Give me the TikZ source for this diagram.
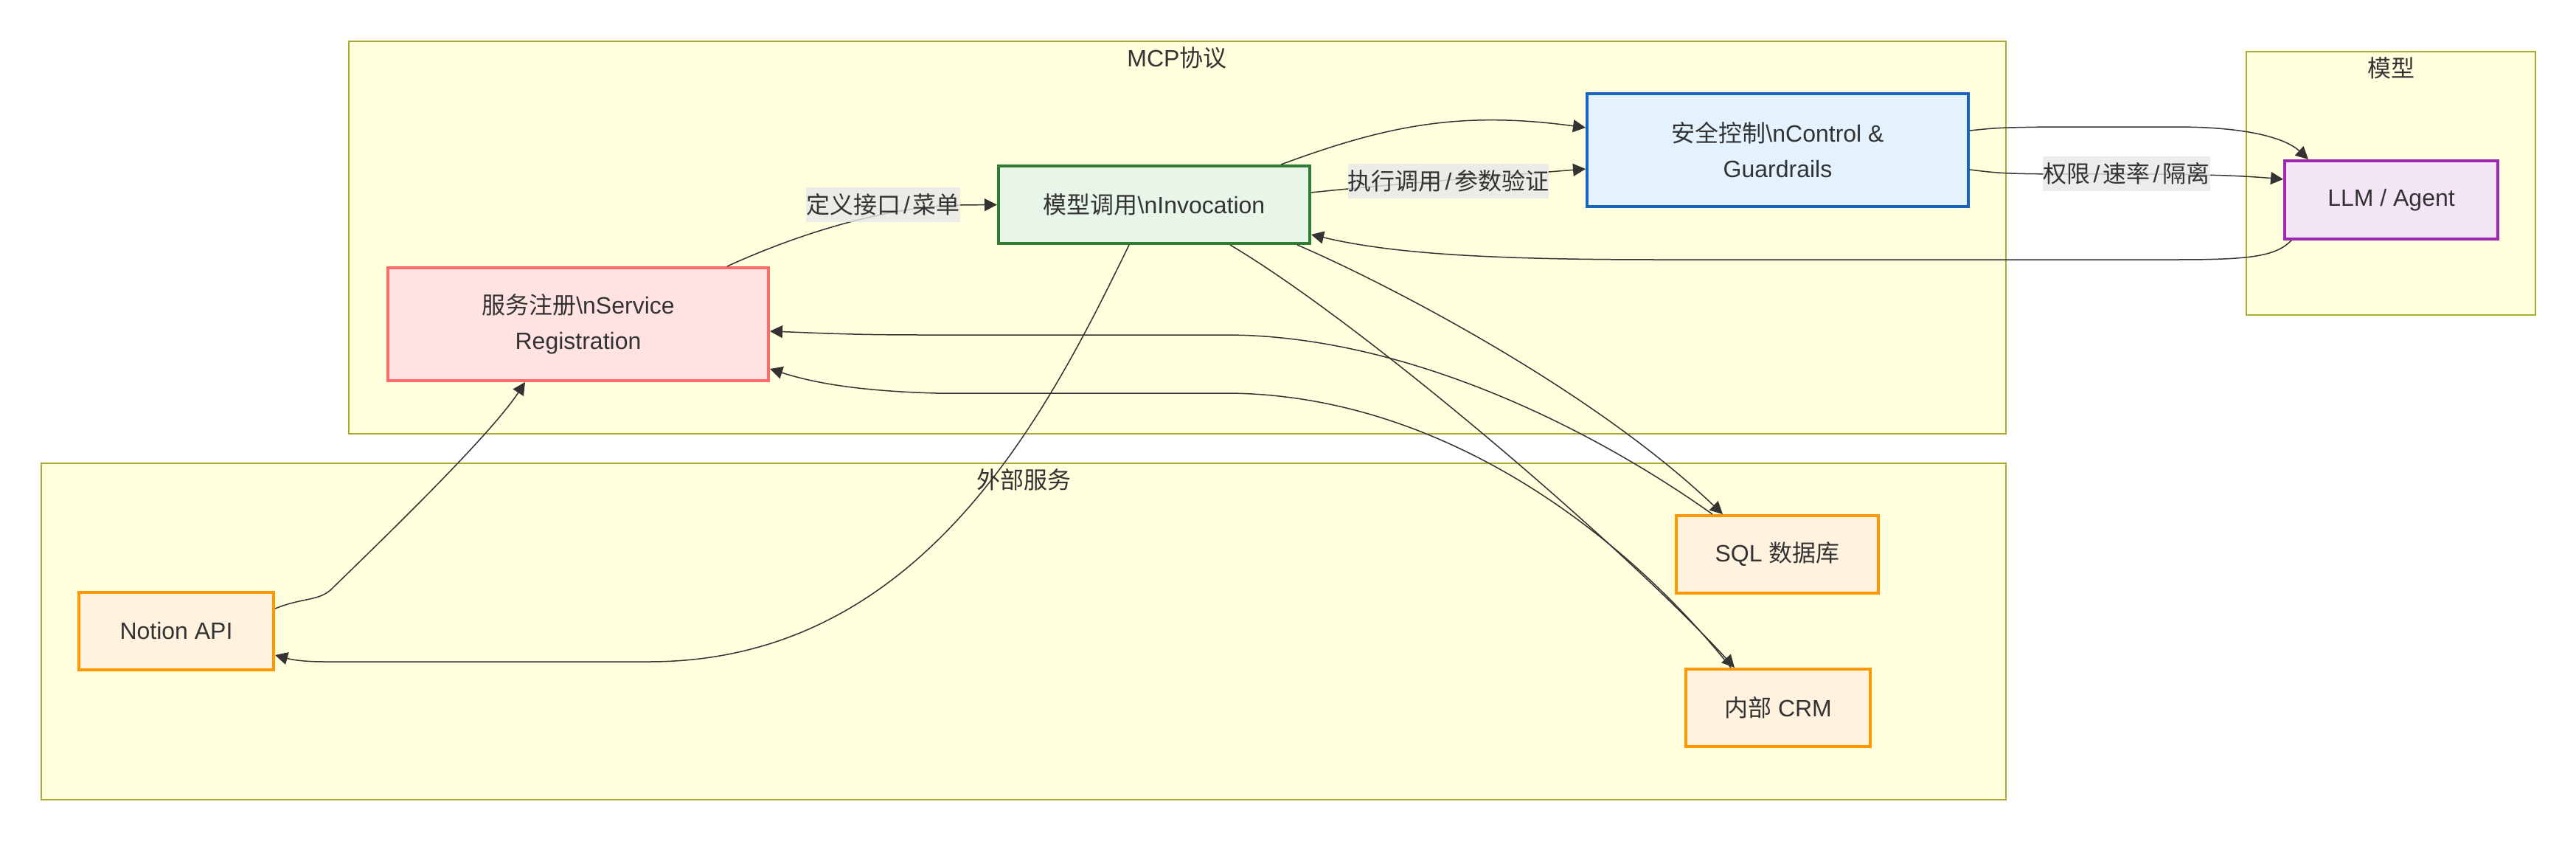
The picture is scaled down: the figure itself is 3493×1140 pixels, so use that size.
\documentclass[tikz,border=0pt]{standalone}
\usepackage{fontspec}
\setmainfont{Liberation Sans}
\newfontfamily\cjkfont{Noto Sans CJK SC}
\usetikzlibrary{arrows.meta}
\newcommand\zh[1]{{\cjkfont #1}}
\definecolor{clfill}{HTML}{FFFFDE}
\definecolor{cldraw}{HTML}{AAAA33}
\definecolor{txt}{HTML}{333333}
\definecolor{edgec}{HTML}{333333}
\definecolor{lblbg}{HTML}{E8E8E8}
\definecolor{rfill}{HTML}{FFE2E2}
\definecolor{rdraw}{HTML}{FF6B6B}
\definecolor{ifill}{HTML}{E8F5E9}
\definecolor{idraw}{HTML}{2E7D32}
\definecolor{sfill}{HTML}{E3F2FD}
\definecolor{sdraw}{HTML}{1565C0}
\definecolor{lfill}{HTML}{F3E5F5}
\definecolor{ldraw}{HTML}{9C27B0}
\definecolor{efill}{HTML}{FFF3E0}
\definecolor{edraw}{HTML}{FF9800}
\begin{document}
\begin{tikzpicture}[x=0.5pt,y=-0.5pt,
  cluster/.style={fill=clfill,draw=cldraw,line width=1pt},
  cltitle/.style={text=txt,font=\fontsize{16}{20}\selectfont,inner sep=0pt},
  box/.style={draw,line width=2pt,inner sep=0pt,text=txt,align=center,
    font=\fontsize{16}{24}\selectfont},
  regbox/.style={box,fill=rfill,draw=rdraw},
  invbox/.style={box,fill=ifill,draw=idraw},
  secbox/.style={box,fill=sfill,draw=sdraw},
  llmbox/.style={box,fill=lfill,draw=ldraw},
  extbox/.style={box,fill=efill,draw=edraw},
  edge/.style={draw=edgec,line width=0.75pt,-{Triangle[length=8.5pt,width=8.5pt]}},
  elabel/.style={fill=lblbg,fill opacity=0.8,text opacity=1,text=txt,inner sep=0pt,
    minimum height=23.5pt,font=\fontsize{16}{20}\selectfont}
]
\fill[white] (0,0) rectangle (3493,1140);
\useasboundingbox (0,0) rectangle (3493,1140);

% clusters
\draw[cluster] (473,56) rectangle (2720,588);
\draw[cluster] (3046,70) rectangle (3438,427);
\draw[cluster] (56,628) rectangle (2720,1084);
\node[cltitle] (tmcp) at (1596,78) {MCP\zh{协议}};
\node[cltitle] (tmodel) at (3242,92) {\zh{模型}};
\node[cltitle] (text) at (1388,650) {\zh{外部服务}};

% nodes
\node[regbox,minimum width=258pt,minimum height=76.5pt] (R) at (784,439.5)
  {\zh{服务注册}\textbackslash nService\\Registration};
\node[invbox,minimum width=211pt,minimum height=52.5pt] (I) at (1565,277.5)
  {\zh{模型调用}\textbackslash nInvocation};
\node[secbox,minimum width=258.5pt,minimum height=76.5pt] (S) at (2410.5,203.5)
  {\zh{安全控制}\textbackslash nControl \&\\Guardrails};
\node[llmbox,minimum width=144.5pt,minimum height=53pt] (L) at (3242.5,271)
  {LLM / Agent};
\node[extbox,minimum width=132pt,minimum height=52.5pt] (N) at (239,855.5)
  {Notion API};
\node[extbox,minimum width=137pt,minimum height=52.5pt] (Q) at (2410,751.5)
  {SQL \zh{数据库}};
\node[extbox,minimum width=125pt,minimum height=52.5pt] (C) at (2411,959.5)
  {\zh{内部} CRM};

% edges
\draw[edge] ([xshift=101pt]R.north) .. controls (1080,318) and (1200,280) .. (1300,278) -- (I.west);
\draw[edge] ([xshift=86pt]I.north) .. controls (1880,170) and (1980,150) .. ([yshift=15.25pt]S.west);
\draw[edge] ([yshift=8.25pt]I.east) .. controls (1850,253) and (2050,237) .. ([yshift=-12.75pt]S.west);
\draw[edge] ([yshift=13.25pt]S.east) .. controls (2710,173) .. (2780,172) -- (2950,172)
  .. controls (3050,172) and (3100,188) .. ([xshift=-56.25pt]L.north);
\draw[edge] ([yshift=-13.25pt]S.east) .. controls (2720,236) .. (2884,236)
  .. controls (3000,236) and (3050,239) .. ([yshift=14pt]L.west);
\draw[edge] ([xshift=-67.75pt]L.south) .. controls (3085,348) and (3050,352) .. (2950,352) -- (2250,352)
  .. controls (2000,352) and (1880,342) .. ([yshift=-20.25pt]I.east);
\draw[edge] ([xshift=-17pt]I.south) .. controls (1420,560) and (1250,897) .. (880,897) -- (440,897)
  .. controls (410,897) and (395,894) .. ([yshift=-16.25pt]N.east);
\draw[edge] ([yshift=15.25pt]N.east) .. controls (410,810) and (430,815) .. (448,800)
  .. controls (520,730) and (665,590) .. ([xshift=-36pt]R.south);
\draw[edge] ([xshift=-44pt]Q.north) .. controls (2150,575) and (1900,454) .. (1661,454) -- (1250,454)
  .. controls (1150,454) and (1100,451) .. ([yshift=-4.75pt]R.east);
\draw[edge] ([xshift=-32pt]C.north) .. controls (2200,720) and (1950,533) .. (1661,533) -- (1270,533)
  .. controls (1160,530) and (1100,518) .. ([yshift=-30.25pt]R.east);
\draw[edge] ([xshift=97pt]I.south) .. controls (1860,375) and (2150,520) .. ([xshift=-37pt]Q.north);
\draw[edge] ([xshift=51.5pt]I.south) .. controls (1850,440) and (2200,740) .. ([xshift=-29.5pt]C.north);

% edge labels
\node[elabel,minimum width=104pt] (l1) at (1197.5,277.5)
  {\zh{定义接口}\kern2pt/\kern2pt\zh{菜单}};
\node[elabel,minimum width=136pt] (l2) at (1964,245.5)
  {\zh{执行调用}\kern2pt/\kern2pt\zh{参数验证}};
\node[elabel,minimum width=113.5pt] (l3) at (2883.5,235.5)
  {\zh{权限}\kern2pt/\kern2pt\zh{速率}\kern2pt/\kern2pt\zh{隔离}};
\end{tikzpicture}
\end{document}
